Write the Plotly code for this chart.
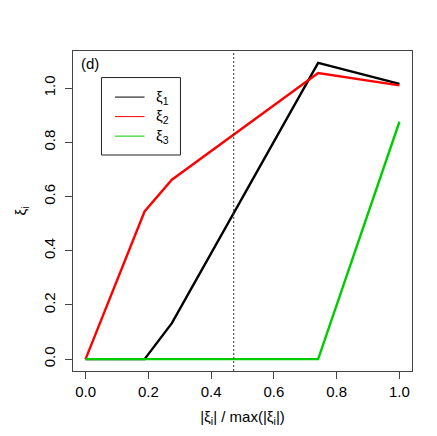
import plotly.graph_objects as go

# values
x_vals = [0.0, 0.188, 0.275, 0.741, 1.0]
xi1 = [0.0, 0.0, 0.133, 1.093, 1.016]
xi2 = [0.0, 0.545, 0.662, 1.056, 1.010]
x_green = [0.0, 0.741, 1.0]
xi3 = [0.0, 0.0, 0.876]
cut_x = 0.472

names = ["ξ<sub>1</sub>", "ξ<sub>2</sub>", "ξ<sub>3</sub>"]
colores = ["#000000", "#FF0000", "#00CD00"]
tick_vals = [0.0, 0.2, 0.4, 0.6, 0.8, 1.0]
tick_text = ["0.0", "0.2", "0.4", "0.6", "0.8", "1.0"]

FONT = "Liberation Sans, Arial, sans-serif"

fig = go.Figure()
series = [(x_vals, xi1), (x_vals, xi2), (x_green, xi3)]
for (xs, ys), nm, col in zip(series, names, colores):
    fig.add_trace(go.Scatter(x=xs, y=ys, mode="lines", name=nm,
                             line=dict(color=col, width=2.4), showlegend=False))

fig.add_vline(x=cut_x, line=dict(color="#333333", width=1, dash="2px,2px"))

# hand-drawn legend box, R style
fig.add_shape(type="rect", xref="paper", yref="paper",
              x0=0.084, x1=0.317, y0=0.675, y1=0.917,
              line=dict(color="#222222", width=1), fillcolor="white")
ly = [0.856, 0.795, 0.734]
for y, nm, col in zip(ly, names, colores):
    fig.add_shape(type="line", xref="paper", yref="paper",
                  x0=0.124, x1=0.211, y0=y, y1=y,
                  line=dict(color=col, width=1))
    fig.add_annotation(x=0.24, y=y, xref="paper", yref="paper", text=nm,
                       showarrow=False, xanchor="left", yanchor="middle",
                       font=dict(size=15, color="black", family=FONT))

fig.add_annotation(x=0.018, y=0.96, xref="paper", yref="paper", text="(d)",
                   showarrow=False, xanchor="left", yanchor="middle",
                   font=dict(size=15, color="black", family=FONT))

# page body has an 8px margin, so the figure is a bit smaller than the window
fig.update_layout(
    width=429, height=428, autosize=False,
    plot_bgcolor="white", paper_bgcolor="white",
    margin=dict(l=63, r=25, t=43, b=65),
    font=dict(family=FONT, size=15, color="black"),
)
fig.update_xaxes(
    range=[-0.04, 1.04], tickvals=tick_vals, ticktext=tick_text,
    showgrid=False, zeroline=False, showline=True, mirror=True,
    linecolor="#444444", linewidth=1, ticks="outside", ticklen=7,
    tickcolor="#444444", tickfont=dict(size=15),
    title=dict(text="|ξ<sub>i</sub>| / max(|ξ<sub>i</sub>|)", standoff=12,
               font=dict(size=15)),
)
fig.update_yaxes(
    range=[-0.0437, 1.137], tickvals=tick_vals, ticktext=tick_text,
    showgrid=False, zeroline=False, showline=True, mirror=True,
    linecolor="#444444", linewidth=1, ticks="outside", ticklen=7,
    tickcolor="#444444", tickfont=dict(size=15), tickangle=-90,
    ticklabelstandoff=4,
    title=dict(text="ξ<sub>i</sub>", standoff=10, font=dict(size=15)),
)

fig.write_html("out.html")
